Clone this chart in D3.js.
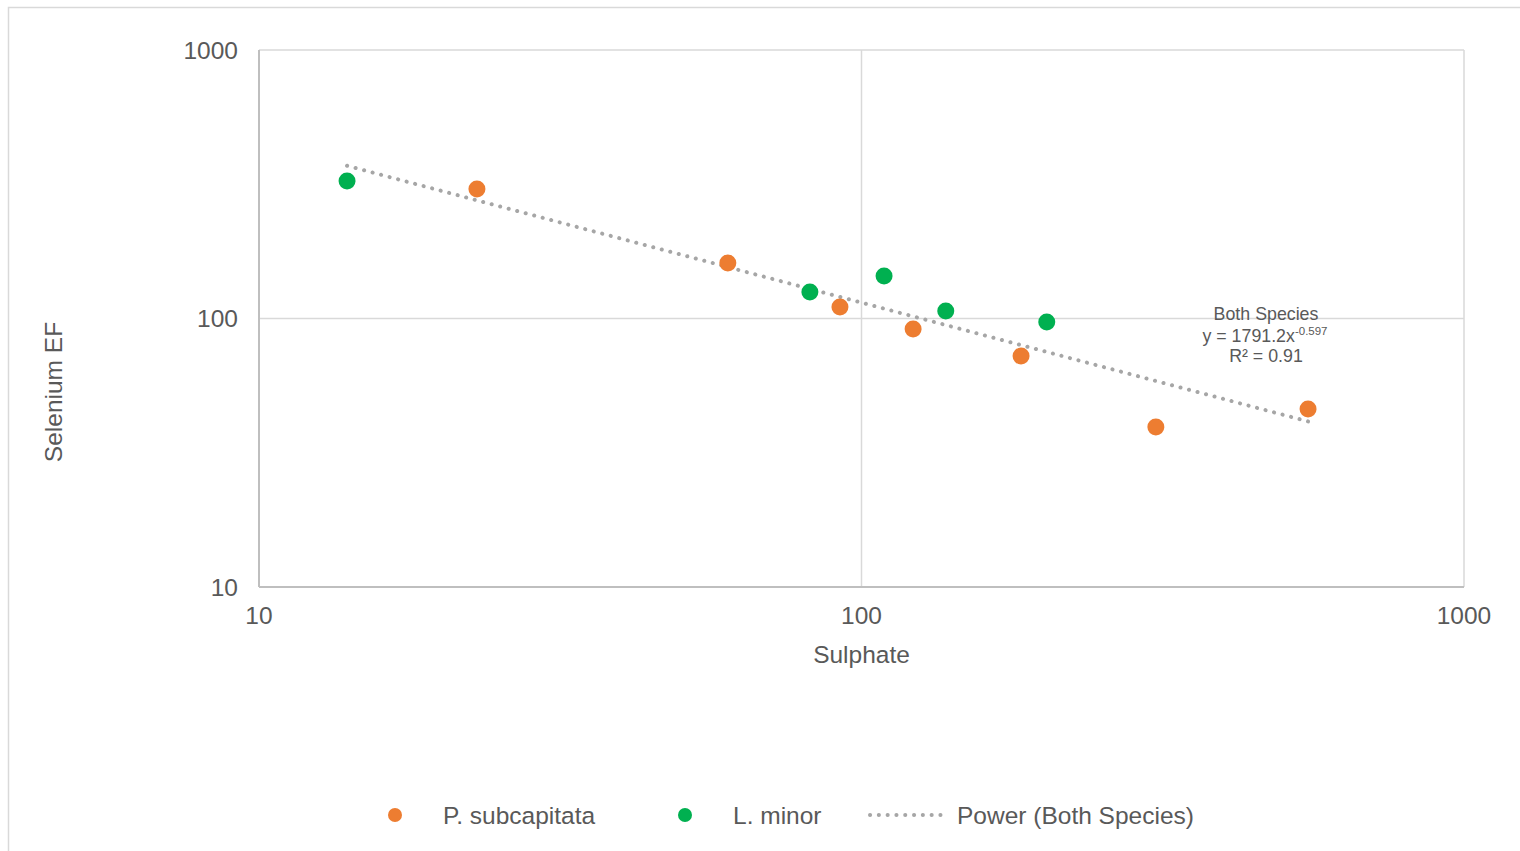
<!DOCTYPE html>
<html>
<head>
<meta charset="utf-8">
<script src="https://cdn.jsdelivr.net/npm/d3@7"></script>
<style>
  html, body { margin: 0; padding: 0; background: #ffffff; }
  svg { display: block; font-family: "Liberation Sans", Arial, sans-serif; }
</style>
</head>
<body>
<svg id="chart" width="1520" height="851"></svg>
<script>
// ---- data ----
const pSubX = [23.0, 60.0, 92.1, 121.8, 184, 308, 551];
const pSubY = [303.6, 161, 110.4, 91.4, 72.5, 39.4, 46];
const lMinX = [14.0, 82.1, 109, 138, 203];
const lMinY = [325, 125.5, 144, 106.7, 97];
const xTicks = [10, 100, 1000];
const yTicks = [10, 100, 1000];
const trendCoef = 1791.2;
const trendExp = -0.597;
const trendR2 = "0.91";
const seriesNames = ["P. subcapitata", "L. minor", "Power (Both Species)"];

(function () {
// ---- layout ----
const svg = d3.select("#chart");
const pL = 259, pR = 1464, pT = 50, pB = 587;
const x = d3.scaleLog().domain([10, 1000]).range([pL, pR]);
const y = d3.scaleLog().domain([10, 1000]).range([pB, pT]);
const textCol = "#595959";
const orange = "#ED7D31", green = "#00B050";
const fs = 24.5;

// outer chart border
svg.append("rect").attr("x", 8.5).attr("y", 7.5).attr("width", 1600).attr("height", 1000)
  .attr("fill", "#fff").attr("stroke", "#d9d9d9").attr("stroke-width", 1.5);

// gridlines
const grid = svg.append("g");
grid.selectAll(".hg").data(yTicks.filter(d => d !== 10)).enter().append("line")
  .attr("x1", pL).attr("x2", pR).attr("y1", d => y(d)).attr("y2", d => y(d))
  .attr("stroke", "#d9d9d9").attr("stroke-width", 1.5);
grid.selectAll(".vg").data(xTicks.filter(d => d !== 10)).enter().append("line")
  .attr("y1", pT).attr("y2", pB).attr("x1", d => x(d)).attr("x2", d => x(d))
  .attr("stroke", "#d9d9d9").attr("stroke-width", 1.5);

// axes lines
svg.append("line").attr("x1", pL).attr("x2", pL).attr("y1", pT).attr("y2", pB)
  .attr("stroke", "#bfbfbf").attr("stroke-width", 2);
svg.append("line").attr("x1", pL).attr("x2", pR).attr("y1", pB).attr("y2", pB)
  .attr("stroke", "#bfbfbf").attr("stroke-width", 2);

// tick labels
svg.selectAll(".yt").data(yTicks).enter().append("text")
  .attr("x", 238).attr("y", d => y(d)).attr("dy", "0.35em")
  .attr("text-anchor", "end").attr("font-size", fs).attr("fill", textCol)
  .text(d => d3.format("d")(d));
svg.selectAll(".xt").data(xTicks).enter().append("text")
  .attr("x", d => x(d)).attr("y", 615).attr("dy", "0.35em")
  .attr("text-anchor", "middle").attr("font-size", fs).attr("fill", textCol)
  .text(d => d3.format("d")(d));

// axis titles
svg.append("text").attr("x", x(100)).attr("y", 654).attr("dy", "0.35em")
  .attr("text-anchor", "middle").attr("font-size", fs).attr("fill", textCol).text("Sulphate");
svg.append("text").attr("transform", "translate(53,392) rotate(-90)").attr("dy", "0.35em")
  .attr("text-anchor", "middle").attr("font-size", fs).attr("fill", textCol).text("Selenium EF");

// trendline
const allX = pSubX.concat(lMinX);
const [xmin, xmax] = d3.extent(allX);
const trendPts = [xmin, xmax].map(v => [v, trendCoef * Math.pow(v, trendExp)]);
svg.append("path")
  .attr("d", d3.line().x(d => x(d[0])).y(d => y(d[1]))(trendPts))
  .attr("fill", "none").attr("stroke", "#a6a6a6").attr("stroke-width", 4)
  .attr("stroke-linecap", "round").attr("stroke-dasharray", "0.1 8.7");

// points
const pData = pSubX.map((v, i) => [v, pSubY[i]]);
const lData = lMinX.map((v, i) => [v, lMinY[i]]);
svg.selectAll(".p").data(pData).enter().append("circle")
  .attr("cx", d => x(d[0])).attr("cy", d => y(d[1])).attr("r", 8.5).attr("fill", orange);
svg.selectAll(".l").data(lData).enter().append("circle")
  .attr("cx", d => x(d[0])).attr("cy", d => y(d[1])).attr("r", 8.5).attr("fill", green);

// trendline label
const lab = svg.append("g").attr("fill", textCol).attr("font-size", 17.8).attr("text-anchor", "middle");
lab.append("text").attr("x", 1266).attr("y", 320).text("Both Species");
const eq = lab.append("text").attr("x", 1265).attr("y", 342);
eq.append("tspan").text("y = " + trendCoef.toFixed(1) + "x");
eq.append("tspan").attr("font-size", 11.5).attr("dy", -7).text(String(trendExp));
lab.append("text").attr("x", 1266).attr("y", 362).text("R² = " + trendR2);

// legend
const leg = svg.append("g").attr("font-size", fs).attr("fill", textCol);
leg.append("circle").attr("cx", 395).attr("cy", 815).attr("r", 7).attr("fill", orange);
leg.append("text").attr("x", 443).attr("y", 815).attr("dy", "0.35em").text(seriesNames[0]);
leg.append("circle").attr("cx", 685).attr("cy", 815).attr("r", 7).attr("fill", green);
leg.append("text").attr("x", 733).attr("y", 815).attr("dy", "0.35em").text(seriesNames[1]);
leg.append("line").attr("x1", 870).attr("x2", 946).attr("y1", 815).attr("y2", 815)
  .attr("stroke", "#a6a6a6").attr("stroke-width", 4).attr("stroke-linecap", "round")
  .attr("stroke-dasharray", "0.1 8.7");
leg.append("text").attr("x", 957).attr("y", 815).attr("dy", "0.35em").text(seriesNames[2]);
})();
</script>
</body>
</html>
